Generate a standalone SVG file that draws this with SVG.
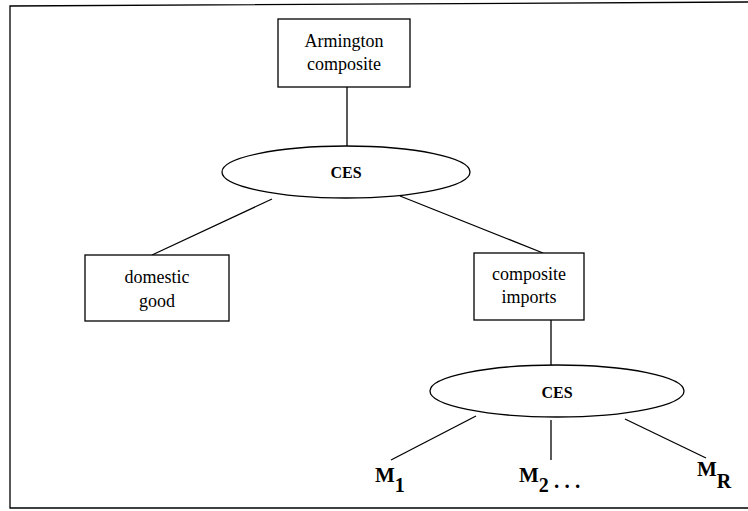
<svg xmlns="http://www.w3.org/2000/svg" width="748" height="511" viewBox="0 0 748 511">
<style>
.box{fill:#fff;stroke:#000;stroke-width:1.3}
.ell{fill:#fff;stroke:#000;stroke-width:1.3}
.ln{stroke:#000;stroke-width:1.3;fill:none}
.t{font-family:"Liberation Serif",serif;font-size:18px;fill:#000;text-anchor:middle}
.b{font-family:"Liberation Serif",serif;font-size:16px;font-weight:bold;fill:#000;text-anchor:middle}
.m{font-family:"Liberation Serif",serif;font-size:21px;font-weight:bold;fill:#000}
</style>
<rect width="748" height="511" fill="#fff"/>
<path class="ln" d="M748,2 L10,6 L10,508 L748,508" stroke-width="1.6"/>
<g id="connectors">
<line class="ln" x1="347" y1="87" x2="347" y2="147"/>
<line class="ln" x1="272" y1="199" x2="152" y2="255"/>
<line class="ln" x1="400" y1="196" x2="543" y2="253"/>
<line class="ln" x1="551" y1="320" x2="551" y2="365"/>
<line class="ln" x1="476" y1="416" x2="391" y2="460"/>
<line class="ln" x1="551" y1="420" x2="551" y2="460"/>
<line class="ln" x1="625" y1="419" x2="706" y2="458"/>
</g>
<g id="armington">
<rect class="box" x="278" y="19" width="132" height="68"/>
<text class="t" x="344" y="47">Armington</text>
<text class="t" x="344" y="70">composite</text>
</g>
<g id="ces1">
<ellipse class="ell" cx="346" cy="172" rx="124" ry="26"/>
<text class="b" x="346" y="178">CES</text>
</g>
<g id="domestic">
<rect class="box" x="85" y="255" width="144" height="66"/>
<text class="t" x="157" y="283">domestic</text>
<text class="t" x="157" y="307">good</text>
</g>
<g id="imports">
<rect class="box" x="474" y="253" width="110" height="67"/>
<text class="t" x="529" y="280">composite</text>
<text class="t" x="529" y="303">imports</text>
</g>
<g id="ces2">
<ellipse class="ell" cx="557" cy="391" rx="127" ry="26"/>
<text class="b" x="557" y="398">CES</text>
</g>
<g id="m1">
<text class="m" x="375" y="482">M<tspan font-size="20" dy="10">1</tspan></text>
</g>
<g id="m2">
<text class="m" x="519" y="482">M<tspan font-size="20" dy="10">2</tspan><tspan dy="-4"> . . .</tspan></text>
</g>
<g id="mr">
<text class="m" x="697" y="476">M<tspan font-size="20" dy="12">R</tspan></text>
</g>
</svg>
